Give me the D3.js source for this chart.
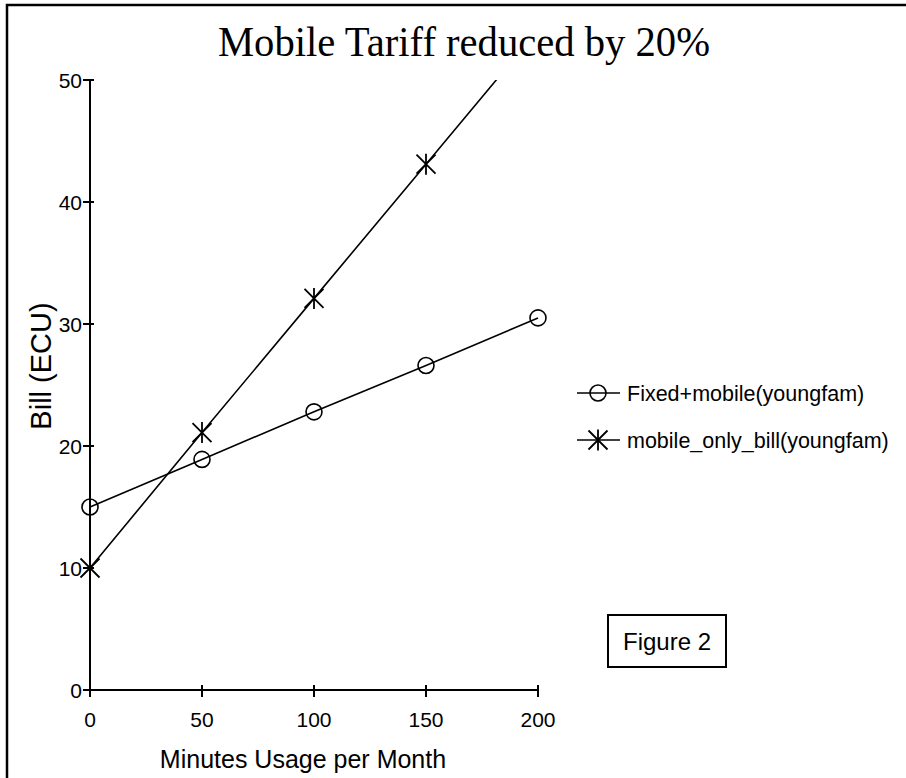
<!DOCTYPE html>
<html>
<head>
<meta charset="utf-8">
<script src="https://cdn.jsdelivr.net/npm/d3@7"></script>
<style>
  body { margin: 0; background: #fff; }
  svg { display: block; }
  text { font-family: "Liberation Sans", Arial, Helvetica, sans-serif; fill: #000; }
</style>
</head>
<body>
<svg id="chart" width="906" height="778"></svg>
<script>
  // data
  const minutes = [0, 50, 100, 150, 200];
  const fixedMobile = [15, 18.9, 22.8, 26.6, 30.5];
  const mobileOnly = [10, 21.1, 32.1, 43.1, 54.1];
  const xTicks = [0, 50, 100, 150, 200];
  const yTicks = [0, 10, 20, 30, 40, 50];
  const seriesNames = ['Fixed+mobile(youngfam)', 'mobile_only_bill(youngfam)'];

  const svg = d3.select('#chart');

  // outer frame (only top and left edges fall inside the picture)
  svg.append('rect')
    .attr('x', 7).attr('y', 5)
    .attr('width', 1000).attr('height', 1000)
    .attr('fill', 'none')
    .attr('stroke', '#000')
    .attr('stroke-width', 2.5);

  const x = d3.scaleLinear().domain([0, 200]).range([90, 538]);
  const y = d3.scaleLinear().domain([0, 50]).range([690, 80]);

  // title
  svg.append('text')
    .attr('x', 464).attr('y', 56)
    .attr('text-anchor', 'middle')
    .style('font-family', '"Liberation Serif", "Times New Roman", serif')
    .style('font-size', '43px')
    .attr('textLength', 492)
    .attr('lengthAdjust', 'spacingAndGlyphs')
    .text('Mobile Tariff reduced by 20%');

  // axes
  const axes = svg.append('g').attr('stroke', '#000').attr('stroke-width', 2);
  axes.append('line')
    .attr('x1', x(0)).attr('x2', x(0))
    .attr('y1', y(50)).attr('y2', y(0) + 7);
  axes.append('line')
    .attr('x1', x(0) - 7).attr('x2', x(200))
    .attr('y1', y(0)).attr('y2', y(0));

  axes.selectAll('.ytick')
    .data(yTicks)
    .enter()
    .append('line')
    .attr('x1', x(0) - 7).attr('x2', x(0) + 4)
    .attr('y1', d => y(d)).attr('y2', d => y(d));

  axes.selectAll('.xtick')
    .data(xTicks)
    .enter()
    .append('line')
    .attr('x1', d => x(d)).attr('x2', d => x(d))
    .attr('y1', y(0) - 5).attr('y2', y(0) + 7);

  svg.append('g').selectAll('text')
    .data(yTicks)
    .enter()
    .append('text')
    .attr('x', x(0) - 8)
    .attr('y', d => y(d) + 7.5)
    .attr('text-anchor', 'end')
    .style('font-size', '21px')
    .text(d => d);

  svg.append('g').selectAll('text')
    .data(xTicks)
    .enter()
    .append('text')
    .attr('x', d => x(d))
    .attr('y', 727)
    .attr('text-anchor', 'middle')
    .style('font-size', '21px')
    .text(d => d);

  // axis titles
  svg.append('text')
    .attr('x', 303).attr('y', 768)
    .attr('text-anchor', 'middle')
    .style('font-size', '25px')
    .text('Minutes Usage per Month');

  svg.append('text')
    .attr('transform', 'translate(51,366) rotate(-90)')
    .attr('text-anchor', 'middle')
    .style('font-size', '29px')
    .text('Bill (ECU)');

  // clip so the steep line stops at the top of the axis
  svg.append('clipPath').attr('id', 'plotClip')
    .append('rect')
    .attr('x', x(0) - 20).attr('y', y(50))
    .attr('width', x(200) - x(0) + 40).attr('height', y(0) - y(50) + 20);

  const line = d3.line()
    .x((d, i) => x(minutes[i]))
    .y(d => y(d));

  const plot = svg.append('g').attr('clip-path', 'url(#plotClip)');
  [mobileOnly, fixedMobile].forEach(series => {
    plot.append('path')
      .datum(series)
      .attr('d', line)
      .attr('fill', 'none')
      .attr('stroke', '#000')
      .attr('stroke-width', 1.6);
  });

  // marker helpers
  function drawCircle(g, cx, cy) {
    g.append('circle')
      .attr('cx', cx).attr('cy', cy).attr('r', 8)
      .attr('fill', 'none')
      .attr('stroke', '#000')
      .attr('stroke-width', 1.6);
  }

  function drawStar(g, cx, cy) {
    const s = 9.5;
    const p = `M${cx - s},${cy - s}L${cx + s},${cy + s}M${cx - s},${cy + s}L${cx + s},${cy - s}M${cx},${cy - s - 1}L${cx},${cy + s + 1}`;
    g.append('path')
      .attr('d', p)
      .attr('stroke', '#000')
      .attr('stroke-width', 1.8);
  }

  const marks = svg.append('g');
  mobileOnly.forEach((v, i) => {
    if (v <= 50) drawStar(marks, x(minutes[i]), y(v));
  });
  fixedMobile.forEach((v, i) => drawCircle(marks, x(minutes[i]), y(v)));

  // legend
  const legend = svg.append('g');
  const legendRows = [393, 440];
  legendRows.forEach((ly, i) => {
    legend.append('line')
      .attr('x1', 577).attr('x2', 620)
      .attr('y1', ly).attr('y2', ly)
      .attr('stroke', '#000')
      .attr('stroke-width', 1.6);
    if (i === 0) drawCircle(legend, 598, ly);
    else drawStar(legend, 598, ly);
    legend.append('text')
      .attr('x', 627).attr('y', ly + 7.5)
      .style('font-size', '21.5px')
      .text(seriesNames[i]);
  });

  // Figure 2 box
  svg.append('rect')
    .attr('x', 608).attr('y', 615)
    .attr('width', 118).attr('height', 52)
    .attr('fill', 'none')
    .attr('stroke', '#000')
    .attr('stroke-width', 2);
  svg.append('text')
    .attr('x', 667).attr('y', 650)
    .attr('text-anchor', 'middle')
    .style('font-size', '24px')
    .text('Figure 2');
</script>
</body>
</html>
